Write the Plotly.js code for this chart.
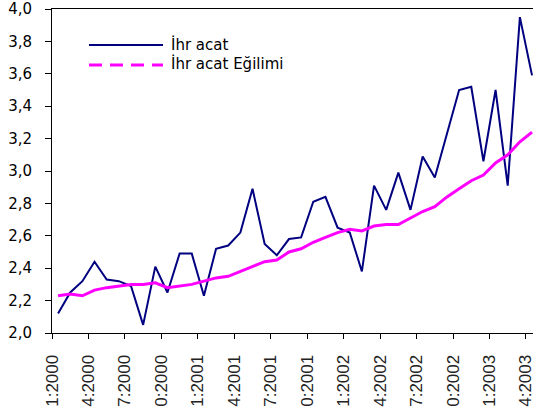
<!DOCTYPE html>
<html>
<head>
<meta charset="utf-8">
<script src="https://cdn.plot.ly/plotly-3.0.1.min.js"></script>
<style>html,body{margin:0;padding:0;overflow:hidden;background:#fff;}#chart{width:535px;height:407px;}</style>
</head>
<body>
<div id="chart"></div>
<script>
// Monthly categories 1:2000 .. 4:2003
const categories = [
  '1:2000','2:2000','3:2000','4:2000','5:2000','6:2000','7:2000','8:2000','9:2000','10:2000','11:2000','12:2000',
  '1:2001','2:2001','3:2001','4:2001','5:2001','6:2001','7:2001','8:2001','9:2001','10:2001','11:2001','12:2001',
  '1:2002','2:2002','3:2002','4:2002','5:2002','6:2002','7:2002','8:2002','9:2002','10:2002','11:2002','12:2002',
  '1:2003','2:2003','3:2003','4:2003'
];
const ihracat = [
  2.12, 2.25, 2.32, 2.44, 2.33, 2.32, 2.29, 2.05, 2.41, 2.25,
  2.49, 2.49, 2.23, 2.52, 2.54, 2.62, 2.89, 2.55, 2.48, 2.58,
  2.59, 2.81, 2.84, 2.65, 2.62, 2.38, 2.91, 2.76, 2.99, 2.76,
  3.09, 2.96, 3.23, 3.50, 3.52, 3.06, 3.50, 2.91, 3.95, 3.59
];
const egilim = [
  2.23, 2.24, 2.23, 2.265, 2.28, 2.29, 2.30, 2.30, 2.31, 2.28,
  2.29, 2.30, 2.32, 2.34, 2.35, 2.38, 2.41, 2.44, 2.45, 2.50,
  2.52, 2.56, 2.59, 2.62, 2.64, 2.63, 2.66, 2.67, 2.67, 2.71,
  2.75, 2.78, 2.84, 2.89, 2.94, 2.975, 3.05, 3.10, 3.18, 3.24
];
const tickLabels = ['1:2000','4:2000','7:2000','0:2000','1:2001','4:2001','7:2001','0:2001',
                    '1:2002','4:2002','7:2002','0:2002','1:2003','4:2003'];
const seriesNames = ['İhr acat', 'İhr acat Eğilimi'];

const xIdx = categories.map((_, i) => i);
const tickVals = tickLabels.map((_, i) => i * 3 - 0.5);

const traces = [
  {x: xIdx, y: ihracat, type: 'scatter', mode: 'lines', name: seriesNames[0],
   line: {color: '#000080', width: 2}, hoverinfo: 'skip'},
  {x: xIdx, y: egilim, type: 'scatter', mode: 'lines', name: seriesNames[1],
   line: {color: '#FF00FF', width: 3}, hoverinfo: 'skip'}
];

const L = 52, R = 533, T = 9, B = 333;
const px = v => (v - L) / (R - L);
const py = v => (B - v) / (B - T);

const layout = {
  width: 535, height: 407,
  margin: {l: L, r: 535 - R, t: T, b: 407 - B, pad: 0},
  paper_bgcolor: '#fff', plot_bgcolor: '#fff',
  separators: ', ',
  showlegend: false,
  xaxis: {
    range: [-0.5, 39.08], showgrid: false, zeroline: false,
    showline: true, linecolor: '#000', linewidth: 1, mirror: true,
    ticks: 'outside', ticklen: 5, tickcolor: '#000',
    tickvals: tickVals, ticktext: tickLabels, tickangle: -90,
    ticklabelstandoff: 9, ticklabeloverflow: 'allow',
    tickfont: {family: 'Liberation Sans, Arial, sans-serif', size: 17, color: '#222'}
  },
  yaxis: {
    range: [2, 4], dtick: 0.2, tick0: 2, tickformat: '.1f',
    showgrid: false, zeroline: false,
    showline: true, linecolor: '#000', linewidth: 1,
    ticks: 'outside', ticklen: 6, tickcolor: '#000',
    ticklabelstandoff: 10, ticklabeloverflow: 'allow',
    tickfont: {family: 'DejaVu Sans, Verdana, sans-serif', size: 15, color: '#000'}
  },
  shapes: [
    {type: 'line', xref: 'paper', yref: 'paper', x0: px(89), x1: px(163), y0: py(45), y1: py(45),
     line: {color: '#000080', width: 2}},
    {type: 'line', xref: 'paper', yref: 'paper', x0: px(89), x1: px(163), y0: py(65), y1: py(65),
     line: {color: '#FF00FF', width: 3, dash: '13px,8px'}}
  ],
  annotations: [
    {xref: 'paper', yref: 'paper', x: px(169), y: py(44), xanchor: 'left', yanchor: 'middle',
     text: seriesNames[0], showarrow: false,
     font: {family: 'DejaVu Sans, Verdana, sans-serif', size: 15, color: '#000'}},
    {xref: 'paper', yref: 'paper', x: px(169), y: py(64), xanchor: 'left', yanchor: 'middle',
     text: seriesNames[1], showarrow: false,
     font: {family: 'DejaVu Sans, Verdana, sans-serif', size: 15, color: '#000'}}
  ]
};

Plotly.newPlot('chart', traces, layout, {displayModeBar: false, staticPlot: true});
</script>
</body>
</html>
